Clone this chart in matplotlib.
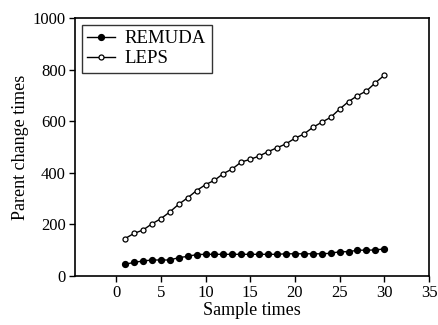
import matplotlib
matplotlib.use("Agg")
import matplotlib.pyplot as plt

plt.rcParams['font.family'] = ['Liberation Serif', 'DejaVu Serif']

x = list(range(1, 31))
remuda = [45, 53, 58, 62, 62, 62, 71, 76, 83, 84, 84, 84, 84, 84, 84, 84, 84, 84,
          86, 86, 86, 86, 86, 88, 94, 94, 100, 100, 101, 105]
leps = [145, 165, 178, 202, 222, 248, 278, 303, 331, 354, 371, 397, 415, 442, 452,
        465, 482, 497, 512, 534, 550, 576, 596, 615, 647, 676, 699, 717, 749, 778]
xticks = [0, 5, 10, 15, 20, 25, 30, 35]
yticks = [0, 200, 400, 600, 800, 1000]

fig = plt.figure(figsize=(4.38, 3.25), dpi=100)
ax = fig.add_axes([0.1712, 0.1508, 0.8083, 0.7938])

ax.plot(x, remuda, color='black', lw=1.0, marker='o', markersize=4.2,
        markerfacecolor='black', markeredgecolor='black', label='REMUDA')
ax.plot(x, leps, color='black', lw=1.0, marker='o', markersize=3.6,
        markerfacecolor='white', markeredgecolor='black', markeredgewidth=0.9,
        label='LEPS')

ax.set_xlim(-4.6, 35)
ax.set_ylim(0, 1000)
ax.set_xticks(xticks)
ax.set_yticks(yticks)
ax.tick_params(direction='out', length=4, width=1, labelsize=12, top=False, right=False,
               colors='black', pad=2.5)
for s in ax.spines.values():
    s.set_linewidth(1.2)
    s.set_color('black')

ax.set_xlabel('Sample times', fontsize=13, labelpad=1)
ax.set_ylabel('Parent change times', fontsize=13, labelpad=3)

leg = ax.legend(loc='upper left', fontsize=13.5, fancybox=False, frameon=True,
                edgecolor='black', handlelength=1.5, borderaxespad=0.35,
                borderpad=0.3, labelspacing=0.15, handletextpad=0.5)
leg.get_frame().set_linewidth(1.0)

fig.savefig('out.png', dpi=100)
